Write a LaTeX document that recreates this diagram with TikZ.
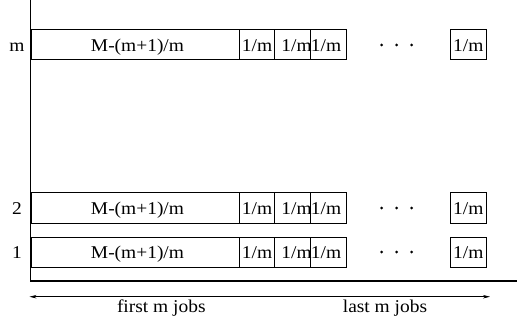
\documentclass[tikz,border=0pt]{standalone}
\usepackage{fontspec}
\setmainfont{Liberation Serif}[FakeStretch=1.08]
\usetikzlibrary{arrows.meta}
\begin{document}
\begin{tikzpicture}[x=1pt,y=-1pt,
  every node/.style={font=\fontsize{18}{21}\selectfont},
  job/.style={draw, line width=0.8pt, minimum height=30pt, inner sep=0pt, anchor=north west},
  lbl/.style={anchor=base, inner sep=0pt},
  axis/.style={line width=1.8pt},
  span/.style={line width=0.6pt, -{Stealth[length=7pt,width=3.5pt]}},
  dot/.style={circle, fill, inner sep=0pt, minimum size=3pt}]
\useasboundingbox (0,0) rectangle (517,326);

% machine rows: label, top edge, name
\foreach \r/\t/\n in {m/29.5/m, 2/192.5/two, 1/236.5/one}{
  \node[lbl] (row\n) at (17,\t+21.8) {\r};
  \node[job, minimum width=208pt] (big\n) at (31,\t) {};
  \node[lbl] (bigtxt\n) at (137.5,\t+21.8) {M-(m+1)/m};
  \node[job, minimum width=35.3pt] (a\n) at (239,\t) {};
  \node[job, minimum width=35.7pt] (b\n) at (274.3,\t) {};
  \node[job, minimum width=36pt] (c\n) at (310,\t) {};
  \node[job, minimum width=35.7pt] (z\n) at (450,\t) {};
  \node[lbl] (atxt\n) at (257,\t+21.8) {1/m};
  \node[lbl] (btxt\n) at (296.5,\t+21.8) {1/m};
  \node[lbl] (ctxt\n) at (326,\t+21.8) {1/m};
  \node[lbl] (ztxt\n) at (468.3,\t+21.8) {1/m};
  \node[dot] (d1\n) at (381.7,\t+15.5) {};
  \node[dot] (d2\n) at (396.7,\t+15.5) {};
  \node[dot] (d3\n) at (411.7,\t+15.5) {};
}

% axes
\coordinate (ytop) at (30.5,0);
\coordinate (origin) at (30.5,281);
\coordinate (xend) at (517,281);
\draw[axis] (ytop) -- (origin) -- (xend);

% job group spans
\coordinate (spanL) at (29.5,296.7);
\coordinate (spanM) at (273,296.7);
\coordinate (spanR) at (490,296.7);
\draw[span] (spanM) -- (spanL);
\draw[span] (spanM) -- (spanR);
\node[lbl] (first) at (161.3,312.3) {first m jobs};
\node[lbl] (last) at (385,312.3) {last m jobs};
\end{tikzpicture}
\end{document}
